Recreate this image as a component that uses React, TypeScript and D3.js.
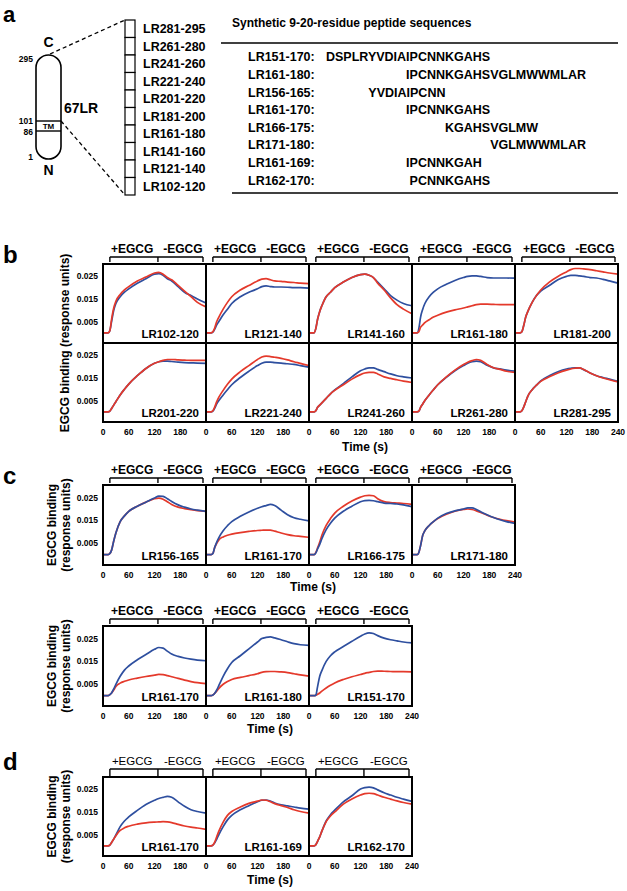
import React from "react";
import * as d3 from "d3";

// sampling times (s) shared by every sensorgram
const times = [0, 12, 16, 20, 25, 30, 40, 50, 60, 80, 100, 120, 130, 140, 150, 160, 175, 190, 205, 220, 240];
const yTicks = [0.005, 0.015, 0.025];
const xTicks = [0, 60, 120, 180];
const bracketTimes = [16, 128, 233];

// panel a
const segmentLabels = ["LR281-295", "LR261-280", "LR241-260", "LR221-240", "LR201-220", "LR181-200", "LR161-180", "LR141-160", "LR121-140", "LR102-120"];
const residueMarks = [
  { label: "295", y: 59 },
  { label: "101", y: 121 },
  { label: "86", y: 132 },
  { label: "1", y: 157 },
];
const parentSeq = "DSPLRYVDIAIPCNNKGAHSVGLMWWMLAR"; // residues 151-180
const peptideNames = ["LR151-170:", "LR161-180:", "LR156-165:", "LR161-170:", "LR166-175:", "LR171-180:", "LR161-169:", "LR162-170:"];
const peptideStarts = [151, 161, 156, 161, 166, 171, 161, 162];
const peptideEnds = [170, 180, 165, 170, 175, 180, 169, 170];

// panel b
const bLabels = ["LR102-120", "LR121-140", "LR141-160", "LR161-180", "LR181-200", "LR201-220", "LR221-240", "LR241-260", "LR261-280", "LR281-295"];
const bBlue = [
  [0, 0, 0.001, 0.005, 0.010, 0.013, 0.016, 0.018, 0.0195, 0.022, 0.024, 0.026, 0.0262, 0.0255, 0.024, 0.023, 0.0205, 0.018, 0.0165, 0.015, 0.0132],
  [0, 0, 0.0003, 0.0015, 0.0035, 0.005, 0.008, 0.0105, 0.013, 0.016, 0.018, 0.0195, 0.0205, 0.0208, 0.0205, 0.0203, 0.0203, 0.0202, 0.02, 0.02, 0.0198],
  [0, 0, 0.002, 0.006, 0.0095, 0.012, 0.016, 0.018, 0.02, 0.0225, 0.0245, 0.0258, 0.026, 0.0255, 0.0245, 0.0225, 0.0195, 0.0165, 0.0145, 0.013, 0.012],
  [0, 0, 0.002, 0.007, 0.0105, 0.013, 0.016, 0.018, 0.0195, 0.0215, 0.0232, 0.0245, 0.025, 0.0252, 0.0252, 0.025, 0.0245, 0.0243, 0.0243, 0.0243, 0.0242],
  [0, 0, 0.0005, 0.003, 0.007, 0.0095, 0.0135, 0.0165, 0.0185, 0.021, 0.0235, 0.025, 0.0255, 0.0255, 0.0252, 0.025, 0.0245, 0.0243, 0.0237, 0.023, 0.022],
  [0, 0, 0.0003, 0.0015, 0.003, 0.0045, 0.0075, 0.01, 0.0123, 0.016, 0.0192, 0.0215, 0.0222, 0.0225, 0.0225, 0.0223, 0.022, 0.0218, 0.0217, 0.0216, 0.0215],
  [0, 0, 0.0003, 0.0015, 0.0035, 0.005, 0.0075, 0.0098, 0.012, 0.0152, 0.018, 0.0205, 0.0215, 0.022, 0.022, 0.0218, 0.0216, 0.0213, 0.021, 0.0205, 0.0198],
  [0, 0, 0.0005, 0.002, 0.003, 0.004, 0.006, 0.008, 0.0097, 0.0125, 0.0155, 0.0182, 0.019, 0.0195, 0.0195, 0.0188, 0.0178, 0.0168, 0.016, 0.0155, 0.015],
  [0, 0, 0.0003, 0.002, 0.0035, 0.005, 0.0075, 0.0098, 0.012, 0.0153, 0.0182, 0.0205, 0.0215, 0.0222, 0.0225, 0.0222, 0.0207, 0.0195, 0.019, 0.0185, 0.018],
  [0, 0, 0.0005, 0.002, 0.0045, 0.007, 0.0098, 0.0118, 0.0137, 0.016, 0.0178, 0.019, 0.0193, 0.0195, 0.0195, 0.0187, 0.0172, 0.016, 0.0152, 0.0145, 0.0135],
];
const bRed = [
  [0, 0, 0.001, 0.006, 0.011, 0.014, 0.017, 0.019, 0.0205, 0.023, 0.0247, 0.0265, 0.0268, 0.026, 0.0245, 0.0235, 0.021, 0.0185, 0.016, 0.0135, 0.0115],
  [0, 0, 0.0005, 0.002, 0.005, 0.007, 0.0105, 0.0135, 0.016, 0.019, 0.021, 0.023, 0.0238, 0.024, 0.0235, 0.023, 0.0228, 0.0225, 0.0223, 0.022, 0.0218],
  [0, 0, 0.002, 0.006, 0.0095, 0.012, 0.016, 0.018, 0.02, 0.0225, 0.0245, 0.0258, 0.026, 0.0255, 0.0245, 0.022, 0.019, 0.0155, 0.0125, 0.0105, 0.0085],
  [0, 0, 0.0005, 0.0025, 0.0035, 0.0045, 0.0058, 0.007, 0.0078, 0.0092, 0.0102, 0.011, 0.0115, 0.012, 0.0125, 0.0127, 0.0127, 0.0126, 0.0125, 0.0125, 0.0125],
  [0, 0, 0.0005, 0.003, 0.007, 0.0095, 0.0135, 0.0165, 0.019, 0.0225, 0.025, 0.027, 0.028, 0.0285, 0.0285, 0.0283, 0.028, 0.0275, 0.027, 0.0265, 0.026],
  [0, 0, 0.0003, 0.0015, 0.003, 0.0045, 0.0075, 0.01, 0.0123, 0.016, 0.0192, 0.0215, 0.0222, 0.0228, 0.0232, 0.0232, 0.023, 0.0229, 0.0228, 0.0228, 0.0228],
  [0, 0, 0.0005, 0.002, 0.0045, 0.0065, 0.0095, 0.0122, 0.0145, 0.0178, 0.0205, 0.0232, 0.0243, 0.0247, 0.0245, 0.0242, 0.0237, 0.023, 0.0222, 0.0215, 0.0205],
  [0, 0, 0.0005, 0.002, 0.003, 0.004, 0.006, 0.008, 0.0095, 0.012, 0.0145, 0.0165, 0.0172, 0.0175, 0.0175, 0.0168, 0.0155, 0.0148, 0.0142, 0.0136, 0.013],
  [0, 0, 0.0003, 0.002, 0.0035, 0.005, 0.0075, 0.0098, 0.012, 0.0155, 0.0185, 0.021, 0.022, 0.0227, 0.0232, 0.0228, 0.021, 0.0195, 0.0188, 0.018, 0.0175],
  [0, 0, 0.0005, 0.002, 0.0045, 0.007, 0.0098, 0.0118, 0.0135, 0.0155, 0.0172, 0.0185, 0.019, 0.0193, 0.0195, 0.0188, 0.0172, 0.016, 0.015, 0.0142, 0.0133],
];

// panel c, first row
const c1Labels = ["LR156-165", "LR161-170", "LR166-175", "LR171-180"];
const c1Blue = [
  [0, 0, 0.0005, 0.002, 0.006, 0.0095, 0.0145, 0.017, 0.019, 0.0212, 0.023, 0.0248, 0.0256, 0.0255, 0.0245, 0.0233, 0.0218, 0.0208, 0.02, 0.0195, 0.019],
  [0, 0, 0.0005, 0.003, 0.0055, 0.0075, 0.0105, 0.0127, 0.0145, 0.0168, 0.0187, 0.0203, 0.021, 0.0215, 0.022, 0.0215, 0.0195, 0.0175, 0.0162, 0.0155, 0.0148],
  [0, 0, 0.0008, 0.0025, 0.0045, 0.007, 0.011, 0.0138, 0.016, 0.019, 0.0212, 0.0232, 0.0237, 0.0238, 0.0236, 0.0232, 0.0226, 0.0224, 0.0222, 0.0218, 0.021],
  [0, 0, 0.001, 0.004, 0.0085, 0.0105, 0.0128, 0.0145, 0.016, 0.018, 0.0192, 0.02, 0.0205, 0.0205, 0.0198, 0.0188, 0.0175, 0.0163, 0.0153, 0.0145, 0.0137],
];
const c1Red = [
  [0, 0, 0.0005, 0.002, 0.006, 0.0095, 0.0145, 0.017, 0.019, 0.0212, 0.023, 0.0245, 0.0248, 0.0243, 0.0232, 0.022, 0.0208, 0.0202, 0.0197, 0.0193, 0.019],
  [0, 0, 0.0005, 0.003, 0.005, 0.0065, 0.0078, 0.0085, 0.009, 0.0097, 0.0102, 0.0106, 0.0107, 0.0108, 0.0108, 0.0103, 0.0095, 0.0088, 0.0083, 0.008, 0.0076],
  [0, 0, 0.001, 0.003, 0.0055, 0.0085, 0.0128, 0.0158, 0.0182, 0.0212, 0.0235, 0.0252, 0.0258, 0.026, 0.0258, 0.0245, 0.0232, 0.0228, 0.0226, 0.0224, 0.022],
  [0, 0, 0.001, 0.004, 0.0085, 0.0105, 0.0128, 0.0145, 0.0158, 0.0177, 0.019, 0.0198, 0.02, 0.0198, 0.0192, 0.0185, 0.0173, 0.0163, 0.0155, 0.0149, 0.0143],
];

// panel c, second row
const c2Labels = ["LR161-170", "LR161-180", "LR151-170"];
const c2Blue = [
  [0, 0, 0.0005, 0.0012, 0.003, 0.005, 0.0085, 0.0112, 0.013, 0.0157, 0.018, 0.0203, 0.0211, 0.0208, 0.0195, 0.0182, 0.0172, 0.0165, 0.016, 0.0156, 0.0153],
  [0, 0, 0.0003, 0.001, 0.0025, 0.0045, 0.0085, 0.0118, 0.0145, 0.0175, 0.0205, 0.0235, 0.025, 0.0255, 0.0257, 0.0253, 0.0245, 0.0236, 0.0228, 0.0223, 0.022],
  [0, 0, 0.0003, 0.004, 0.0085, 0.011, 0.015, 0.0175, 0.0192, 0.0215, 0.0238, 0.026, 0.027, 0.0275, 0.0272, 0.0263, 0.0252, 0.0245, 0.024, 0.0235, 0.0231],
];
const c2Red = [
  [0, 0, 0.0005, 0.0012, 0.0025, 0.004, 0.0055, 0.0063, 0.0069, 0.0077, 0.0084, 0.009, 0.0093, 0.0092, 0.0088, 0.0083, 0.0076, 0.0068, 0.0062, 0.0057, 0.0053],
  [0, 0, 0.0003, 0.001, 0.002, 0.0032, 0.005, 0.0062, 0.0071, 0.008, 0.0088, 0.0096, 0.0102, 0.0105, 0.0106, 0.0106, 0.0104, 0.0101, 0.0096, 0.0091, 0.0086],
  [0, 0, 0.0002, 0.0006, 0.0012, 0.002, 0.0034, 0.0046, 0.0056, 0.0071, 0.0083, 0.0093, 0.0098, 0.0102, 0.0106, 0.0108, 0.0107, 0.0106, 0.0105, 0.0105, 0.0104],
];

// panel d
const dLabels = ["LR161-170", "LR161-169", "LR162-170"];
const dBlue = [
  [0, 0, 0.0003, 0.0015, 0.003, 0.0048, 0.0085, 0.011, 0.0128, 0.0157, 0.0183, 0.0202, 0.021, 0.0215, 0.0219, 0.0215, 0.0195, 0.0175, 0.016, 0.0152, 0.0145],
  [0, 0, 0.0003, 0.0012, 0.003, 0.005, 0.0085, 0.0115, 0.0135, 0.016, 0.0178, 0.0195, 0.0202, 0.0203, 0.0198, 0.019, 0.0182, 0.0177, 0.0172, 0.0167, 0.0163],
  [0, 0, 0.0005, 0.002, 0.004, 0.0065, 0.011, 0.0138, 0.0158, 0.0195, 0.0222, 0.0252, 0.0258, 0.026, 0.0257, 0.0248, 0.0235, 0.0225, 0.0215, 0.0207, 0.0197],
];
const dRed = [
  [0, 0, 0.0003, 0.0015, 0.003, 0.0045, 0.0068, 0.008, 0.0087, 0.0096, 0.0102, 0.0105, 0.0106, 0.0107, 0.0106, 0.0103, 0.0095, 0.0088, 0.0083, 0.0079, 0.0073],
  [0, 0, 0.0003, 0.0015, 0.004, 0.0065, 0.0105, 0.0135, 0.0152, 0.0172, 0.0188, 0.0198, 0.0203, 0.0202, 0.0195, 0.0187, 0.0178, 0.017, 0.016, 0.0152, 0.0145],
  [0, 0, 0.0005, 0.002, 0.004, 0.0065, 0.0107, 0.0132, 0.015, 0.0185, 0.0208, 0.0225, 0.0231, 0.0233, 0.0231, 0.0225, 0.0215, 0.0207, 0.0199, 0.0192, 0.0185],
];

const FONT = "'Liberation Sans', Arial, Helvetica, sans-serif";
const BLUE = "#2e4f9f";
const RED = "#e4392b";
const COLW = 103;
const LEFT = 103;
const yDomain = [-0.0045, 0.0305];

function textWidth(str: string, font: string) {
  const ctx = document.createElement("canvas").getContext("2d");
  if (!ctx) return str.length * 8;
  ctx.font = font;
  return ctx.measureText(str).width;
}

function Bracket({ left, top, plain }) {
  const x = d3.scaleLinear().domain([0, 240]).range([left, left + COLW]);
  const lineY = plain ? top - 8 : top - 7;
  const tickEnd = plain ? top - 1 : top - 2;
  return (
    <g>
      <text x={x(68)} y={plain ? top - 12 : top - 11} textAnchor="middle"
        fontSize={plain ? 11.5 : 12} fontWeight={plain ? "normal" : "bold"}>+EGCG</text>
      <text x={x(186)} y={plain ? top - 12 : top - 11} textAnchor="middle"
        fontSize={plain ? 11.5 : 12} fontWeight={plain ? "normal" : "bold"}>-EGCG</text>
      <line x1={x(bracketTimes[0])} x2={x(bracketTimes[2])} y1={lineY} y2={lineY} stroke="#000" strokeWidth={1.4} />
      {bracketTimes.map((t) => (
        <line key={t} x1={x(t)} x2={x(t)} y1={lineY} y2={tickEnd} stroke="#000" strokeWidth={1.4} />
      ))}
    </g>
  );
}

function Panel({ col, top, h, blue, red, label, xLabels, last, blueOnTop }) {
  const left = LEFT + col * COLW;
  const x = d3.scaleLinear().domain([0, 240]).range([left, left + COLW]);
  const y = d3.scaleLinear().domain(yDomain).range([top + h, top]);
  const line = d3.line<number>()
    .x((_, i) => x(times[i]))
    .y((d) => y(d))
    .curve(d3.curveMonotoneX);
  const ticks = last ? xTicks.concat([240]) : xTicks;
  const blueP = <path d={line(blue) || ""} fill="none" stroke={BLUE} strokeWidth={1.7} />;
  const redP = <path d={line(red) || ""} fill="none" stroke={RED} strokeWidth={1.7} />;
  return (
    <g>
      {blueOnTop ? redP : blueP}
      {blueOnTop ? blueP : redP}
      <rect x={left} y={top} width={COLW} height={h} fill="none" stroke="#000" strokeWidth={2} />
      <text x={left + COLW - 7} y={top + h - 5} textAnchor="end" fontSize={11.5} fontWeight="bold">{label}</text>
      {col === 0 && yTicks.map((v) => (
        <text key={v} x={left - 5} y={y(v)} dy="0.35em" textAnchor="end" fontSize={8.5} fontWeight="bold">{String(v)}</text>
      ))}
      {xLabels && ticks.map((t) => (
        <text key={t} x={x(t)} y={top + h + 10} dy="0.35em" textAnchor="middle" fontSize={8.5} fontWeight="bold">{t}</text>
      ))}
    </g>
  );
}

function PanelA() {
  const seqFont = `bold 12.5px ${FONT}`;
  const seqX = 326;
  return (
    <g>
      <text x={3} y={22} fontSize={22} fontWeight="bold">a</text>
      <text x={48.5} y={47} textAnchor="middle" fontSize={14} fontWeight="bold">C</text>
      <text x={48.5} y={175} textAnchor="middle" fontSize={14} fontWeight="bold">N</text>
      <rect x={36} y={55} width={25} height={104} rx={12.5} fill="#fff" stroke="#000" strokeWidth={1.6} />
      <line x1={36} x2={61} y1={121} y2={121} stroke="#000" strokeWidth={1.4} />
      <line x1={36} x2={61} y1={131} y2={131} stroke="#000" strokeWidth={1.4} />
      <text x={48.5} y={126} dy="0.35em" textAnchor="middle" fontSize={8} fontWeight="bold">TM</text>
      {residueMarks.map((m) => (
        <text key={m.label} x={33} y={m.y} dy="0.35em" textAnchor="end" fontSize={8.5} fontWeight="bold">{m.label}</text>
      ))}
      <text x={64} y={108} dy="0.35em" fontSize={14} fontWeight="bold">67LR</text>
      <line x1={50} y1={54} x2={125} y2={20} stroke="#000" strokeWidth={1.3} strokeDasharray="4,3" />
      <line x1={61} y1={121} x2={125} y2={195} stroke="#000" strokeWidth={1.3} strokeDasharray="4,3" />
      {segmentLabels.map((s, i) => (
        <g key={s}>
          <rect x={125} y={20 + i * 17.5} width={10} height={17.5} fill="#fff" stroke="#000" strokeWidth={1.2} />
          <text x={143} y={28.75 + i * 17.5} dy="0.35em" fontSize={12.5} fontWeight="bold">{s}</text>
        </g>
      ))}
      <text x={232} y={23} dy="0.35em" fontSize={12} fontWeight="bold">Synthetic 9-20-residue peptide sequences</text>
      <line x1={221} x2={618} y1={43} y2={43} stroke="#000" strokeWidth={1.6} />
      {peptideNames.map((n, i) => {
        const off = textWidth(parentSeq.slice(0, peptideStarts[i] - 151), seqFont);
        const seq = parentSeq.slice(peptideStarts[i] - 151, peptideEnds[i] - 150);
        const yy = 57 + i * 17.6;
        return (
          <g key={i}>
            <text x={248} y={yy} dy="0.35em" fontSize={12.5} fontWeight="bold">{n}</text>
            <text x={seqX + off} y={yy} dy="0.35em" fontSize={12.5} fontWeight="bold">{seq}</text>
          </g>
        );
      })}
      <line x1={232} x2={618} y1={193} y2={193} stroke="#000" strokeWidth={1.6} />
    </g>
  );
}

function YLabel({ cx, cy, twoLine }) {
  if (!twoLine) {
    return (
      <text transform={`translate(${cx},${cy}) rotate(-90)`} dy="0.35em" textAnchor="middle" fontSize={12} fontWeight="bold">
        EGCG binding (response units)
      </text>
    );
  }
  return (
    <g>
      <text transform={`translate(${cx - 7},${cy}) rotate(-90)`} dy="0.35em" textAnchor="middle" fontSize={12} fontWeight="bold">EGCG binding</text>
      <text transform={`translate(${cx + 7},${cy}) rotate(-90)`} dy="0.35em" textAnchor="middle" fontSize={12} fontWeight="bold">(response units)</text>
    </g>
  );
}

export default function App() {
  const bTop1 = 264, bTop2 = 343, bH = 79;
  const c1Top = 485, c2Top = 626, cH = 80;
  const dTop = 777, dH = 79;
  return (
    <svg width={627} height={891} style={{ position: "absolute", left: 0, top: 0, background: "#fff" }}
      fontFamily={FONT}>
      <PanelA />

      {/* b */}
      <text x={3} y={263} fontSize={24} fontWeight="bold">b</text>
      {bLabels.map((l, i) => {
        const row = i < 5 ? 0 : 1;
        const col = i % 5;
        return (
          <g key={l}>
            {row === 0 && <Bracket left={LEFT + col * COLW} top={bTop1} plain={false} />}
            <Panel col={col} top={row === 0 ? bTop1 : bTop2} h={bH} blue={bBlue[i]} red={bRed[i]} label={l}
              xLabels={row === 1} last={col === 4} blueOnTop={false} />
          </g>
        );
      })}
      <YLabel cx={65} cy={343} twoLine={false} />
      <text x={365} y={447} dy="0.35em" textAnchor="middle" fontSize={12} fontWeight="bold">Time (s)</text>

      {/* c */}
      <text x={3} y={484} fontSize={24} fontWeight="bold">c</text>
      {c1Labels.map((l, i) => (
        <g key={l}>
          <Bracket left={LEFT + i * COLW} top={c1Top} plain={false} />
          <Panel col={i} top={c1Top} h={cH} blue={c1Blue[i]} red={c1Red[i]} label={l} xLabels={true} last={i === 3} blueOnTop={true} />
        </g>
      ))}
      <YLabel cx={59} cy={c1Top + cH / 2} twoLine={true} />
      <text x={313} y={587} dy="0.35em" textAnchor="middle" fontSize={12} fontWeight="bold">Time (s)</text>

      {c2Labels.map((l, i) => (
        <g key={l}>
          <Bracket left={LEFT + i * COLW} top={c2Top} plain={false} />
          <Panel col={i} top={c2Top} h={cH} blue={c2Blue[i]} red={c2Red[i]} label={l} xLabels={true} last={i === 2} blueOnTop={true} />
        </g>
      ))}
      <YLabel cx={59} cy={c2Top + cH / 2} twoLine={true} />
      <text x={270} y={729} dy="0.35em" textAnchor="middle" fontSize={12} fontWeight="bold">Time (s)</text>

      {/* d */}
      <text x={3} y={770} fontSize={24} fontWeight="bold">d</text>
      {dLabels.map((l, i) => (
        <g key={l}>
          <Bracket left={LEFT + i * COLW} top={dTop} plain={true} />
          <Panel col={i} top={dTop} h={dH} blue={dBlue[i]} red={dRed[i]} label={l} xLabels={true} last={i === 2} blueOnTop={false} />
        </g>
      ))}
      <YLabel cx={59} cy={dTop + dH / 2} twoLine={true} />
      <text x={270} y={880} dy="0.35em" textAnchor="middle" fontSize={12} fontWeight="bold">Time (s)</text>
    </svg>
  );
}
